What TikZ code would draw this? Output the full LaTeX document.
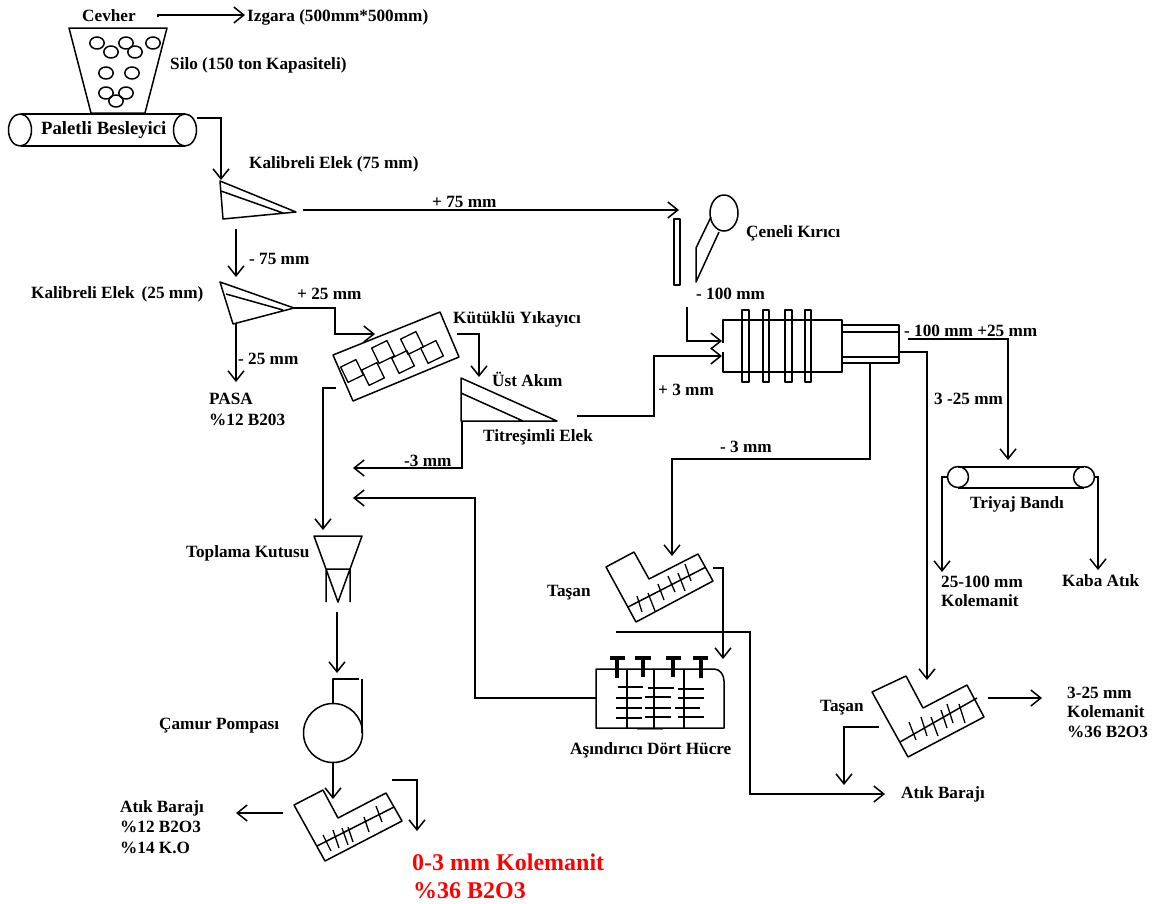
\documentclass[tikz,border=0pt]{standalone}
\usepackage{fontspec}
\setmainfont{Liberation Serif}
\usetikzlibrary{arrows.meta}
\tikzset{
  shp/.style={draw=black,line width=1.5pt,line join=round},
  thin shp/.style={draw=black,line width=1.3pt},
  conn/.style={draw=black,line width=1.5pt},
  arr/.style={conn,-{Straight Barb[length=10pt,width=16pt,line width=1.5pt]}},
  lbl/.style={anchor=base west,inner sep=0pt,font=\fontsize{17.2}{17.2}\selectfont\bfseries,text=black},
  red lbl/.style={lbl,font=\fontsize{24}{24}\selectfont\bfseries,text=red},
  thick t/.style={draw=black,line width=3.2pt},
}
\begin{document}
\begin{tikzpicture}[x=1pt,y=-1pt]
\useasboundingbox (0,0) rectangle (1154,903);
% ---------- texts
\node[lbl] (cevher) at (82,21) {Cevher};
\node[lbl] (izgara) at (247,21) {Izgara (500mm*500mm)};
\node[lbl] (silo) at (170,69) {Silo (150 ton Kapasiteli)};
\node[lbl,font=\fontsize{18.7}{18.7}\selectfont\bfseries] (palet) at (41,134) {Paletli Besleyici};
\node[lbl] (kal75) at (249,168) {Kalibreli Elek (75 mm)};
\node[lbl] (p75) at (432,207) {+ 75 mm};
\node[lbl] (cene) at (746,237) {Çeneli Kırıcı};
\node[lbl] (m75) at (249,264) {- 75 mm};
\node[lbl] (kal25) at (31,298) {Kalibreli Elek\, (25 mm)};
\node[lbl] (p25) at (297,299) {+ 25 mm};
\node[lbl] (m100) at (696,299) {- 100 mm};
\node[lbl] (kut) at (453,323) {Kütüklü Yıkayıcı};
\node[lbl] (m100p25) at (904,336) {- 100 mm +25 mm};
\node[lbl] (m25) at (238,364) {- 25 mm};
\node[lbl] (ust) at (492,386) {Üst Akım};
\node[lbl] (p3) at (658,395) {+ 3 mm};
\node[lbl] (pasa) at (209,404) {PASA};
\node[lbl] (r3m25) at (934,404) {3 -25 mm};
\node[lbl] (pasab) at (209,425) {\%12 B203};
\node[lbl] (tit) at (483,441) {Titreşimli Elek};
\node[lbl] (mm3a) at (720,452) {- 3 mm};
\node[lbl] (mm3b) at (404,466) {-3 mm};
\node[lbl] (tri) at (970,508) {Triyaj Bandı};
\node[lbl] (topl) at (186,557) {Toplama Kutusu};
\node[lbl] (kol1) at (941,587) {25-100 mm};
\node[lbl] (kaba) at (1062,586) {Kaba Atık};
\node[lbl] (tas1) at (547,596) {Taşan};
\node[lbl] (kol1b) at (941,606) {Kolemanit};
\node[lbl] (kol2) at (1067,698) {3-25 mm};
\node[lbl] (tas2) at (820,711) {Taşan};
\node[lbl] (kol2b) at (1067,717) {Kolemanit};
\node[lbl] (camur) at (159,729) {Çamur Pompası};
\node[lbl] (kol2c) at (1067,737) {\%36 B2O3};
\node[lbl] (asin) at (570,754) {Aşındırıcı Dört Hücre};
\node[lbl] (atik2) at (901,798) {Atık Barajı};
\node[lbl] (atik1) at (120,812) {Atık Barajı};
\node[lbl] (atik1b) at (120,832) {\%12 B2O3};
\node[lbl] (atik1c) at (120,853) {\%14 K.O};
\node[red lbl] (red1) at (412,870) {0-3 mm Kolemanit};
\node[red lbl] (red2) at (413,898) {\%36 B2O3};
% ---------- silo and feeder
\draw[shp] (69,28) -- (167,28) -- (145,113) -- (91,113) -- cycle;
\foreach \cx/\cy in {97/43,126/43,153/43,111/52,135/52,106/73,132/73,106/93,126/93,116/101}
  \draw[shp] (\cx,\cy) ellipse [x radius=7.2,y radius=6];
\draw[shp] (21,114) -- (185,114) (21,146) -- (185,146);
\draw[shp] (20,130) ellipse [x radius=11.5,y radius=16];
\draw[shp] (185,130) ellipse [x radius=11.5,y radius=16];
% ---------- screens
\draw[shp] (220,181) -- (296,212) -- (223,219) -- cycle (221,191) -- (283,213);
\draw[shp] (220,282) -- (294,308) -- (233,324) -- cycle (226,294) -- (283,310);
\draw[shp] (461,378) -- (557,421) -- (461,421) -- cycle (461,393) -- (523,421);
% ---------- washer
\draw[shp] (333,355) -- (440,312) -- (459,357) -- (353,401) -- cycle;
\foreach \cx/\cy in {352/371,373/374,383/352,403/362,412/343,432/352}
  \draw[thin shp,shift={(\cx,\cy)},rotate=26] (-8.5,-8.5) rectangle (8.5,8.5);
% ---------- jaw crusher
\draw[shp] (674,219) rectangle (680,285);
\draw[shp] (724,213) ellipse [x radius=14,y radius=18];
\draw[shp] (711,217) -- (696,248) -- (696,282) -- (719,232);
% ---------- drum
\draw[shp] (723,343) -- (723,320) -- (842,320) -- (842,372) -- (723,372) -- (723,352);
\draw[shp] (742,310) rectangle (749,382);
\draw[shp] (763,310) rectangle (769,382);
\draw[shp] (785,310) rectangle (792,382);
\draw[shp] (805,310) rectangle (811,382);
\draw[shp] (842,325) -- (899,325) -- (899,363) -- (842,363) (842,332) -- (899,332) (842,357) -- (899,357);
% ---------- sorting belt
\draw[shp] (958,477) circle [radius=10.5];
\draw[shp] (1084,477) circle [radius=10.5];
\draw[shp] (958,467) -- (1084,467) (958,488) -- (1084,488);
% ---------- collection box
\draw[shp] (314,536) -- (362,536) -- (350,569) -- (326,569) -- cycle;
\draw[shp] (326,602) -- (326,569) -- (338,602) -- (350,569) -- (350,602);
% ---------- pump
\draw[shp] (333,733) circle [radius=29.5];
\draw[shp] (333,703) -- (333,679) -- (359,679) (362,679) -- (362,733);
% ---------- classifiers
\draw[shp] (294,805) -- (323,790) -- (338,818) -- (386,793) -- (402,821) -- (325,861) -- cycle (317,846) -- (394,807);
\foreach \xa/\ya/\xb/\yb in {323/835/331/851,333/830/339/848,342/828/348/845,348/827/353/842,364/817/369/832,376/806/382/822}
  \draw[thin shp] (\xa,\ya) -- (\xb,\yb);
\draw[shp] (606,567) -- (634,552) -- (649,579) -- (698,554) -- (713,581) -- (636,622) -- cycle (628,607) -- (706,567);
\foreach \xa/\ya/\xb/\yb in {637/596/642/612,648/593/655/611,658/584/664/600,668/576/675/592,678/573/685/591,685/564/691/581}
  \draw[thin shp] (\xa,\ya) -- (\xb,\yb);
\draw[shp] (872,692) -- (906,676) -- (923,708) -- (967,685) -- (984,717) -- (908,757) -- cycle (900,742) -- (977,698);
\foreach \xa/\ya/\xb/\yb in {909/722/916/740,921/717/927/736,931/717/938/736,941/710/947/728,947/704/953/723,959/704/965/723}
  \draw[thin shp] (\xa,\ya) -- (\xb,\yb);
% ---------- attrition cells
\draw[shp] (596,669) -- (714,669) to[out=0,in=90] (724,681) -- (724,728) -- (596,728) -- cycle;
\foreach \cx in {627,654,684} \draw[shp] (\cx,669) -- (\cx,728);
\foreach \cx/\yb/\xa/\xb in {617/678/610/625,643/677/635/651,673/677/666/681,701/678/693/708}{
  \draw[thick t] (\cx,658) -- (\cx,\yb);
  \draw[thick t] (\xa,658) -- (\xb,658);
}
\foreach \xa/\xb/\yy in {618/643/687,616/642/698,616/642/708,616/642/718,648/674/688,645/671/697,645/671/708,645/671/717,678/704/689,678/704/698,675/700/708,678/704/717}
  \draw[thin shp] (\xa,\yy) -- (\xb,\yy);
\draw[draw=black!50,line width=1pt] (637,729.5) -- (663,729.5);
% ---------- connector ends
\coordinate (a1) at (158,17); \coordinate (a1k) at (158,15); \coordinate (a2) at (245,15);
\coordinate (b1) at (197,118); \coordinate (b2) at (221,180);
\coordinate (c1) at (303,210); \coordinate (c2) at (679,210);
\coordinate (d1) at (236,229); \coordinate (d2) at (236,277);
\coordinate (e1) at (294,308); \coordinate (e2) at (335,334); \coordinate (e3) at (375,334);
\coordinate (f1) at (236,324); \coordinate (f2) at (236,382);
\coordinate (g1) at (457,334); \coordinate (g2) at (479,377);
\coordinate (h1) at (577,416); \coordinate (h2) at (654,356); \coordinate (h3) at (722,356);
\coordinate (i1) at (687,307); \coordinate (i2) at (722,341);
\coordinate (j1) at (462,421); \coordinate (j2) at (353,468);
\coordinate (k1) at (336,388); \coordinate (k2) at (323,530);
\coordinate (l1) at (596,698); \coordinate (l2) at (475,698); \coordinate (l3) at (353,498);
\coordinate (m1) at (337,612); \coordinate (m2) at (337,673);
\coordinate (n1) at (333,763); \coordinate (n2) at (333,799);
\coordinate (o1) at (392,780); \coordinate (o2) at (417,831);
\coordinate (p1) at (283,813); \coordinate (p2) at (236,813);
\coordinate (q1) at (908,339); \coordinate (q2) at (1008,460);
\coordinate (r1) at (899,352); \coordinate (r2) at (927,680);
\coordinate (s1) at (870,363); \coordinate (s2) at (672,459); \coordinate (s3) at (672,556);
\coordinate (t1) at (947,477); \coordinate (t2) at (942,572);
\coordinate (u1) at (1095,477); \coordinate (u2) at (1098,570);
\coordinate (v1) at (713,568); \coordinate (v2) at (723,659);
\coordinate (w1) at (616,632); \coordinate (w2) at (750,794); \coordinate (w3) at (885,794);
\coordinate (x1) at (988,698); \coordinate (x2) at (1042,698);
\coordinate (y1) at (879,727); \coordinate (y2) at (844,785);
% ---------- connectors
\draw[arr] (a1) -- (a1k) -- (a2);
\draw[arr] (b1) -| (b2);
\draw[arr] (c1) -- (c2);
\draw[arr] (d1) -- (d2);
\draw[arr] (e1) -| (e2) -- (e3);
\draw[arr] (f1) -- (f2);
\draw[arr] (g1) -| (g2);
\draw[arr] (h1) -| (h2) -- (h3);
\draw[arr] (i1) |- (i2);
\draw[arr] (j1) |- (j2);
\draw[arr] (k1) -| (k2);
\draw[arr] (l1) -- (l2) |- (l3);
\draw[arr] (m1) -- (m2);
\draw[arr] (n1) -- (n2);
\draw[arr] (o1) -| (o2);
\draw[arr] (p1) -- (p2);
\draw[arr] (q1) -| (q2);
\draw[arr] (r1) -| (r2);
\draw[arr] (s1) |- (s2) -- (s3);
\draw[arr] (t1) -| (t2);
\draw[arr] (u1) -| (u2);
\draw[arr] (v1) -| (v2);
\draw[arr] (w1) -| (w2) -- (w3);
\draw[arr] (x1) -- (x2);
\draw[arr] (y1) -| (y2);
\end{tikzpicture}
\end{document}
